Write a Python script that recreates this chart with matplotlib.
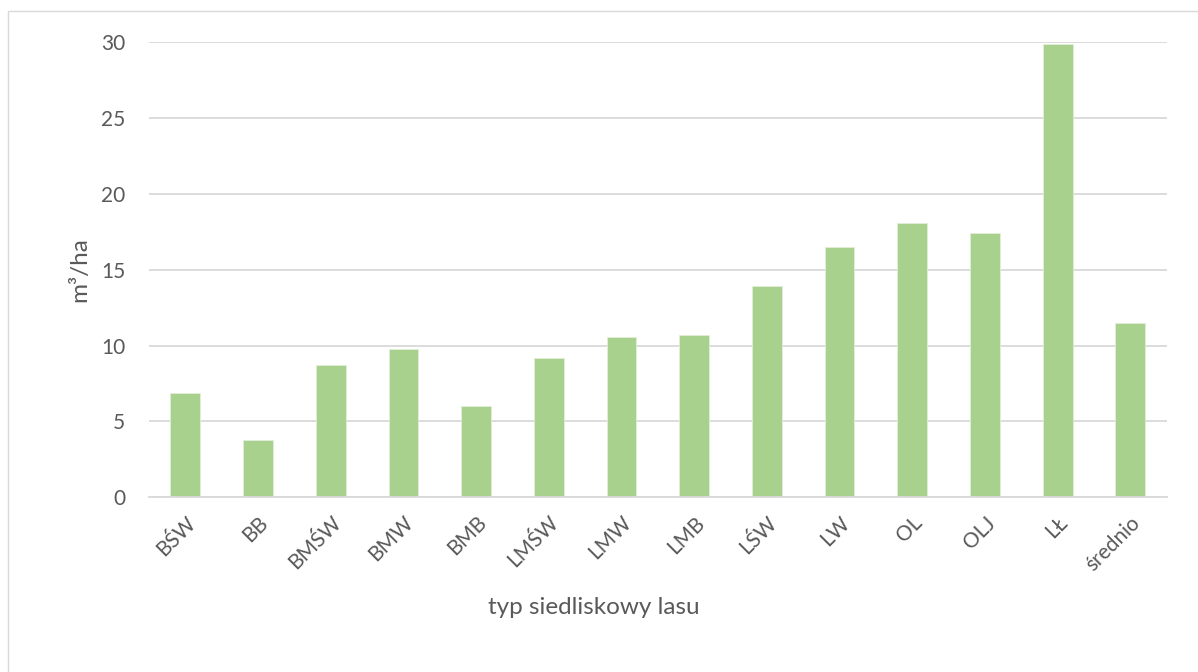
import matplotlib
matplotlib.use("Agg")
import matplotlib.pyplot as plt
from matplotlib.patches import Rectangle

plt.rcParams['font.family'] = ['Lato', 'DejaVu Sans']

categories = ["BŚW", "BB", "BMŚW", "BMW", "BMB", "LMŚW", "LMW", "LMB",
              "LŚW", "LW", "OL", "OLJ", "LŁ", "średnio"]
values = [6.9, 3.8, 8.7, 9.8, 6.0, 9.2, 10.6, 10.7, 13.9, 16.5, 18.1, 17.4, 29.9, 11.5]
yticks = [0, 5, 10, 15, 20, 25, 30]

W, H = 1198, 672
text_color = "#595959"
grid_color = "#D9D9D9"
bar_color = "#A9D18E"

fig = plt.figure(figsize=(W / 100, H / 100), dpi=100)
fig.patch.set_facecolor("white")

# chart area border
fig.patches.append(Rectangle((8 / W, -0.05), 1.1, 1 - 11 / H + 0.05,
                             transform=fig.transFigure, fill=False,
                             edgecolor=grid_color, linewidth=1.0))

left, right = 149 / W, 1166.7 / W
bottom, top = 1 - 497.3 / H, 1 - 42.3 / H
ax = fig.add_axes([left, bottom, right - left, top - bottom])

x = list(range(len(categories)))
ax.bar(x, values, width=0.41, color=bar_color, edgecolor="#E2EFDA",
       linewidth=0.6, zorder=3)

ax.set_xlim(-0.5, len(categories) - 0.5)
ax.set_ylim(0, 30)
ax.set_yticks(yticks)
ax.set_yticklabels([str(v) for v in yticks], fontsize=15, color=text_color)
ax.yaxis.grid(True, color=grid_color, linewidth=1.3, zorder=0)
ax.set_axisbelow(True)

ax.set_xticks(x)
ax.set_xticklabels(categories, rotation=45, ha="right", va="top",
                   rotation_mode="anchor", fontsize=15, color=text_color)

ax.tick_params(axis="both", length=0)
ax.tick_params(axis="y", pad=17)
ax.tick_params(axis="x", pad=11)

for s in ["top", "right", "left"]:
    ax.spines[s].set_visible(False)
ax.spines["bottom"].set_color(grid_color)
ax.spines["bottom"].set_linewidth(1.3)
ax.spines["bottom"].set_zorder(4)

fig.text(80 / W, 1 - 270 / H, "m³/ha", rotation=90, ha="center", va="center",
         fontsize=17.5, color=text_color)
fig.text(594 / W, 1 - 608 / H, "typ siedliskowy lasu", ha="center", va="center",
         fontsize=17.5, color=text_color)

fig.savefig("out.png", dpi=100, facecolor="white")
